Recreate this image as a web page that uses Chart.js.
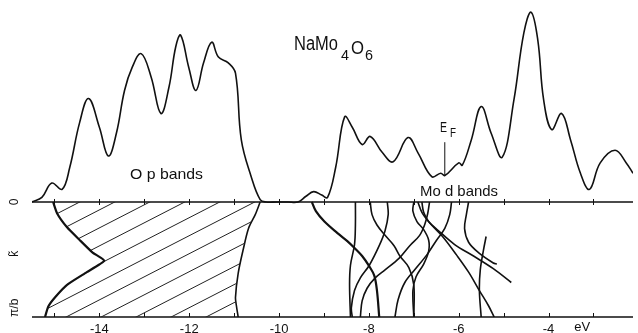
<!DOCTYPE html>
<html>
<head>
<meta charset="utf-8">
<script src="https://cdn.jsdelivr.net/npm/chart.js@4.4.1/dist/chart.umd.min.js"></script>
<style>
  html, body { margin: 0; padding: 0; background: #fff; }
</style>
</head>
<body>
<canvas id="dosChart" width="638" height="333"></canvas>
<script>
// Density of states (top panel), energy in eV, arbitrary units
const dosEnergy = [-15.50, -15.28, -15.06, -14.83, -14.66, -14.44, -14.24, -14.00, -13.80, -13.62,
    -13.44, -13.27, -13.07, -12.85, -12.63, -12.45, -12.30, -12.19, -12.01, -11.85,
    -11.68, -11.50, -11.35, -11.13, -10.97, -10.84, -10.62, -10.42, -10.29, -10.05,
    -9.80, -9.58, -9.40, -9.23, -9.05, -8.92, -8.74, -8.54, -8.37, -8.15,
    -7.97, -7.70, -7.46, -7.13, -6.91, -6.60, -6.40, -6.31, -6.00, -5.92,
    -5.72, -5.50, -5.28, -5.03, -4.77, -4.55, -4.39, -4.24, -4.11, -3.93,
    -3.71, -3.51, -3.29, -3.09, -2.85, -2.52, -2.27, -2.12];
const dosValue = [0, 0.04, 0.165, 0.11, 0.30, 0.69, 0.90, 0.65, 0.40, 0.60,
    0.97, 1.17, 1.29, 1.09, 0.77, 1.00, 1.35, 1.45, 1.17, 0.97,
    1.21, 1.39, 1.26, 1.21, 1.12, 0.54, 0.22, 0.02, 0, 0,
    0, 0, 0.05, 0.09, 0.06, 0.04, 0.30, 0.74, 0.65, 0.50,
    0.57, 0.43, 0.35, 0.56, 0.43, 0.22, 0.25, 0.23, 0.34, 0.32,
    0.54, 0.83, 0.60, 0.39, 0.89, 1.47, 1.65, 1.41, 0.89, 0.63,
    0.77, 0.54, 0.25, 0.11, 0.34, 0.45, 0.34, 0.25];

// Fermi level marker
const fermiEnergy = -6.31;
const fermiMarker = [0.23, 0.52];

// O p band region (hatched), [energy, k] with k = 0 .. 1 (pi/b)
const opLeftEdge = [[-15.03, 0], [-14.94, 0.10], [-14.72, 0.22], [-14.44, 0.33], [-14.15, 0.44],
    [-13.89, 0.51], [-14.28, 0.61], [-14.72, 0.72], [-14.99, 0.83], [-15.14, 0.91], [-15.21, 1]];
const opRightEdge = [[-10.42, 0], [-10.53, 0.11], [-10.68, 0.23], [-10.79, 0.40], [-10.91, 0.62],
    [-10.97, 0.83], [-10.95, 0.90], [-10.91, 1]];

// Mo d bands, [energy, k]
const bandA = [[-9.27, 0], [-9.18, 0.08], [-8.99, 0.17], [-8.70, 0.27], [-8.48, 0.34], [-8.32, 0.40],
    [-8.15, 0.47], [-7.99, 0.56], [-7.88, 0.64], [-7.82, 0.77], [-7.77, 1]];
const bandB = [[-8.30, 0], [-8.30, 0.20], [-8.32, 0.37], [-8.41, 0.55], [-8.43, 0.72], [-8.41, 1]];
const bandC = [[-7.97, 0], [-7.93, 0.11], [-7.82, 0.20], [-7.64, 0.29], [-7.44, 0.38], [-7.31, 0.47],
    [-7.11, 0.57], [-7.00, 0.72], [-7.00, 1]];
const bandD = [[-7.59, 0], [-7.57, 0.11], [-7.64, 0.25], [-7.77, 0.38], [-7.99, 0.55], [-8.19, 0.66],
    [-8.32, 0.77], [-8.39, 0.92], [-8.37, 1]];
const bandE = [[-6.65, 0], [-6.69, 0.10], [-6.76, 0.20], [-6.87, 0.29], [-7.09, 0.38], [-7.33, 0.49],
    [-7.64, 0.59], [-7.86, 0.66], [-8.04, 0.75], [-8.15, 0.86], [-8.19, 1]];
const bandF = [[-6.16, 0], [-6.20, 0.11], [-6.31, 0.23], [-6.49, 0.33], [-6.71, 0.46], [-6.98, 0.59],
    [-7.20, 0.70], [-7.35, 0.85], [-7.42, 1]];
const bandG = [[-7.00, 0], [-7.02, 0.08], [-6.93, 0.17], [-6.78, 0.24], [-6.67, 0.33], [-6.67, 0.43],
    [-6.78, 0.54], [-6.95, 0.65], [-7.02, 0.77], [-7.00, 1]];
const bandH = [[-6.82, 0], [-6.78, 0.09], [-6.67, 0.17], [-6.45, 0.25], [-6.09, 0.37], [-5.67, 0.47],
    [-5.23, 0.58], [-4.83, 0.70]];
const bandI = [[-6.91, 0], [-6.82, 0.09], [-6.65, 0.18], [-6.36, 0.30], [-6.05, 0.46], [-5.78, 0.61],
    [-5.54, 0.77], [-5.34, 0.90], [-5.21, 1]];
const bandJ = [[-5.78, 0], [-5.83, 0.11], [-5.87, 0.23], [-5.78, 0.35], [-5.56, 0.44], [-5.23, 0.53],
    [-5.15, 0.54]];
const bandK = [[-5.39, 0.30], [-5.45, 0.42], [-5.52, 0.59], [-5.54, 0.77], [-5.50, 1]];

const modBands = [bandA, bandB, bandC, bandD, bandE, bandF, bandG, bandH, bandI, bandJ, bandK];

// axis ticks
const tickEnergies = [-15, -14, -13, -12, -11, -10, -9, -8, -7, -6, -5, -4, -3];
const labelEnergies = [-14, -12, -10, -8, -6, -4];

const FONT = "'Liberation Sans', Arial, sans-serif";
const INK = '#111';

function toPoints(pairs) {
    return pairs.map(p => ({ x: p[0], y: p[1] }));
}

// diagonal hatching for the O p band block
function makeHatch() {
    const c = document.createElement('canvas');
    c.width = 35;
    c.height = 18;
    const g = c.getContext('2d');
    g.strokeStyle = '#222';
    g.lineWidth = 1;
    [-1, 0, 1].forEach(n => {
        g.beginPath();
        g.moveTo(0, 18 + 18 * n);
        g.lineTo(35, 18 * n);
        g.stroke();
    });
    const p = g.createPattern(c, 'repeat');
    if (p.setTransform) p.setTransform(new DOMMatrix().translate(0, 9));
    return p;
}

// text squeezed/stretched horizontally to the width measured on the figure
function put(ctx, text, x, y, size, width) {
    ctx.font = size + 'px ' + FONT;
    ctx.save();
    ctx.translate(x, y);
    if (width) ctx.scale(width / ctx.measureText(text).width, 1);
    ctx.fillText(text, 0, 0);
    ctx.restore();
}

const figurePlugin = {
    id: 'figure',
    beforeDatasetsDraw(chart) {
        const ctx = chart.ctx;
        const { left, right } = chart.chartArea;
        const xs = chart.scales.x;
        const yk = chart.scales.yK;
        const y0 = yk.getPixelForValue(0);
        const y1 = yk.getPixelForValue(1);
        ctx.save();
        ctx.strokeStyle = INK;
        ctx.lineWidth = 1.5;
        ctx.beginPath();
        ctx.moveTo(left, y0); ctx.lineTo(right, y0);
        ctx.moveTo(left, y1); ctx.lineTo(right, y1);
        ctx.stroke();
        ctx.lineWidth = 1;
        ctx.beginPath();
        tickEnergies.forEach(e => {
            const px = Math.round(xs.getPixelForValue(e)) + 0.5;
            ctx.moveTo(px, y0 - 3); ctx.lineTo(px, y0 + 3);
            ctx.moveTo(px, y1 - 4); ctx.lineTo(px, y1);
        });
        ctx.stroke();
        ctx.restore();
    },
    afterDatasetsDraw(chart) {
        const ctx = chart.ctx;
        const xs = chart.scales.x;
        const yk = chart.scales.yK;
        ctx.save();
        ctx.fillStyle = INK;
        ctx.textAlign = 'left';
        ctx.textBaseline = 'alphabetic';

        // compound name
        put(ctx, 'NaMo', 294, 50, 20, 44);
        put(ctx, '4', 341, 60, 14, 8);
        put(ctx, 'O', 351, 54, 19, 13);
        put(ctx, '6', 365, 60, 14, 8);

        // band labels
        put(ctx, 'O p bands', 130, 179, 15, 73);
        put(ctx, 'Mo d bands', 420, 196, 15, 78);

        // Fermi level
        put(ctx, 'E', 440, 132, 14, 7);
        put(ctx, 'F', 450, 137, 12, 6);

        // energy unit
        ctx.font = '13px ' + FONT;
        ctx.textAlign = 'center';
        ctx.textBaseline = 'top';
        ctx.fillText('eV', xs.getPixelForValue(-3.25), 321);

        // k axis labels, rotated
        const kLabels = [['0', 0], ['k\u0303', 0.45], ['\u03c0/b', 0.92]];
        ctx.textBaseline = 'middle';
        kLabels.forEach(([t, k]) => {
            ctx.save();
            ctx.translate(15, yk.getPixelForValue(k));
            ctx.rotate(-Math.PI / 2);
            ctx.font = '12px ' + FONT;
            ctx.fillText(t, 0, 0);
            ctx.restore();
        });
        ctx.restore();
    }
};

const hatch = makeHatch();

const datasets = [
    {
        data: dosEnergy.map((e, i) => ({ x: e, y: dosValue[i] })),
        yAxisID: 'yDos',
        borderColor: INK,
        borderWidth: 1.6,
        tension: 0.4,
        fill: false
    },
    {
        data: fermiMarker.map(v => ({ x: fermiEnergy, y: v })),
        yAxisID: 'yDos',
        borderColor: INK,
        borderWidth: 1,
        fill: false
    },
    {
        data: toPoints(opLeftEdge),
        yAxisID: 'yK',
        indexAxis: 'y',
        borderColor: INK,
        borderWidth: 2.2,
        tension: 0.15,
        backgroundColor: hatch,
        fill: '+1'
    },
    {
        data: toPoints(opRightEdge),
        yAxisID: 'yK',
        indexAxis: 'y',
        borderColor: INK,
        borderWidth: 1.6,
        tension: 0.3,
        fill: false
    }
];

modBands.forEach((b, i) => {
    datasets.push({
        data: toPoints(b),
        yAxisID: 'yK',
        indexAxis: 'y',
        borderColor: INK,
        borderWidth: i === 0 ? 2.2 : 1.6,
        tension: 0.35,
        fill: false
    });
});

new Chart(document.getElementById('dosChart'), {
    type: 'line',
    data: { datasets: datasets },
    options: {
        responsive: false,
        animation: false,
        layout: { padding: { left: 32, right: 0, top: 0, bottom: 0 } },
        elements: { point: { radius: 0 } },
        plugins: {
            legend: { display: false },
            tooltip: { enabled: false }
        },
        scales: {
            x: {
                type: 'linear',
                min: -15.5,
                max: -2.12,
                afterFit: s => { s.height = 16; },
                grid: { display: false, drawTicks: false },
                border: { display: false },
                ticks: {
                    stepSize: 1,
                    autoSkip: false,
                    maxRotation: 0,
                    padding: 5,
                    color: INK,
                    font: { family: FONT, size: 13 },
                    callback: v => labelEnergies.includes(v) ? String(v) : ''
                }
            },
            yDos: { type: 'linear', display: false, min: -1, max: 1.7565 },
            yK: { type: 'linear', display: false, reverse: true, min: -1.7565, max: 1 }
        }
    },
    plugins: [figurePlugin]
});
</script>
</body>
</html>
